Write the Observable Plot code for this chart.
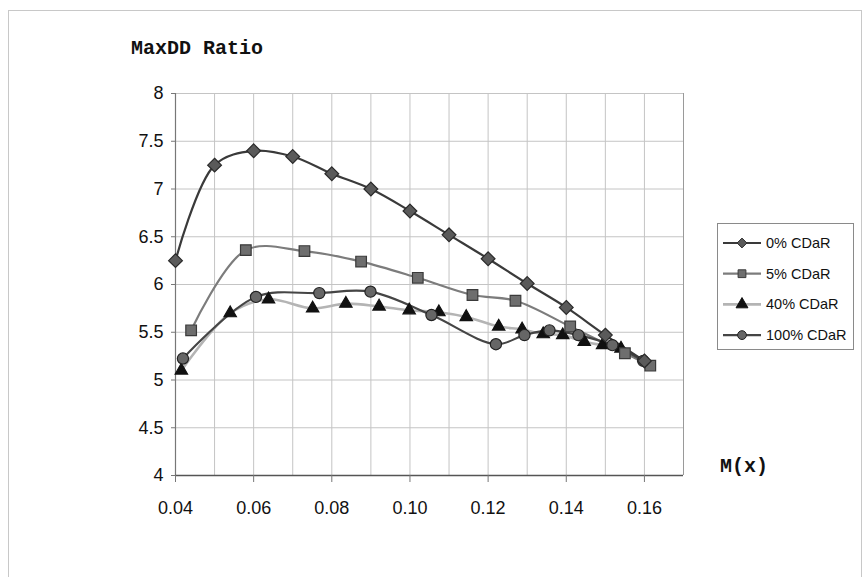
<!DOCTYPE html>
<html>
<head>
<meta charset="utf-8">
<script src="https://cdn.jsdelivr.net/npm/d3@7"></script>
<script src="https://cdn.jsdelivr.net/npm/@observablehq/plot@0.6"></script>
<style>
  html, body { margin: 0; padding: 0; background: #fff; }
  #wrap { position: relative; width: 867px; height: 577px; overflow: hidden; }
  #outer { position: absolute; left: 8px; top: 10px; width: 852px; height: 600px; border: 1.5px solid #c8c8c8; border-bottom: none; }
  #chart { position: absolute; left: 0; top: 0; }
  .lbl { position: absolute; font-family: "Liberation Mono", "DejaVu Sans Mono", monospace; font-weight: bold; font-size: 20px; color: #111; line-height: 20px; white-space: nowrap; }
  #legend { position: absolute; left: 717px; top: 223px; width: 135px; height: 125px; border: 1px solid #8a8a8a; background: #fff; }
</style>
</head>
<body>
<div id="wrap">
  <div id="outer"></div>
  <div id="chart"></div>
  <div class="lbl" style="left:131px; top:39px;">MaxDD Ratio</div>
  <div class="lbl" style="left:720px; top:457px;">M(x)</div>
  <div id="legend"></div>
</div>
<script>
// ---- data ----
const seriesNames = ["0% CDaR", "5% CDaR", "40% CDaR", "100% CDaR"];

const x0   = [0.040, 0.050, 0.060, 0.070, 0.080, 0.090, 0.100, 0.110, 0.120, 0.130, 0.140, 0.150, 0.160];
const y0   = [6.25,  7.25,  7.40,  7.34,  7.16,  7.00,  6.77,  6.52,  6.27,  6.01,  5.76,  5.47,  5.20];

const x5   = [0.044, 0.058, 0.073, 0.0875, 0.102, 0.116, 0.127, 0.141, 0.155, 0.1615];
const y5   = [5.52,  6.36,  6.35,  6.24,   6.07,  5.89,  5.83,  5.56,  5.28,  5.15];

const x40  = [0.0415, 0.054, 0.0638, 0.0751, 0.0836, 0.0921, 0.0998, 0.1074, 0.1144, 0.1227, 0.1287, 0.1341, 0.1391, 0.1446, 0.1493, 0.154];
const y40  = [5.10,   5.70,  5.845,  5.75,   5.80,   5.77,   5.73,   5.71,   5.66,   5.56,   5.53,   5.48,   5.47,   5.40,   5.365,  5.33];

const x100 = [0.0419, 0.0606, 0.0768, 0.0899, 0.1055, 0.122, 0.1293, 0.1357, 0.1431, 0.1518, 0.1597];
const y100 = [5.225,  5.87,   5.91,   5.925,  5.68,   5.375, 5.47,   5.52,   5.47,   5.365,  5.20];

const xTickLabels = [0.04, 0.06, 0.08, 0.10, 0.12, 0.14, 0.16];
const xGridLines  = [0.04, 0.05, 0.06, 0.07, 0.08, 0.09, 0.10, 0.11, 0.12, 0.13, 0.14, 0.15, 0.16, 0.17];
const yTickLabels = [4, 4.5, 5, 5.5, 6, 6.5, 7, 7.5, 8];

// ---- styles ----
const styles = {
  "0% CDaR":   {line: "#3a3a3a", width: 2.2, symbol: "diamond2", fill: "#5a5a5a", stroke: "#2a2a2a", r: 6.2},
  "5% CDaR":   {line: "#7c7c7c", width: 2.2, symbol: "square",   fill: "#6e6e6e", stroke: "#3a3a3a", r: 6.0},
  "40% CDaR":  {line: "#b4b4b4", width: 2.6, symbol: "triangle", fill: "#111111", stroke: "#111111", r: 4.6},
  "100% CDaR": {line: "#454545", width: 2.2, symbol: "circle",   fill: "#666666", stroke: "#222222", r: 5.6}
};

const build = (name, xs, ys) => xs.map((x, i) => ({series: name, x, y: ys[i]}));
const tables = {
  "0% CDaR": build("0% CDaR", x0, y0),
  "5% CDaR": build("5% CDaR", x5, y5),
  "40% CDaR": build("40% CDaR", x40, y40),
  "100% CDaR": build("100% CDaR", x100, y100)
};

const font = "Liberation Sans, Arial, sans-serif";
const marks = [
  Plot.gridX(xGridLines, {stroke: "#c4c4c4", strokeOpacity: 1, strokeWidth: 1}),
  Plot.gridY(yTickLabels, {stroke: "#c4c4c4", strokeOpacity: 1, strokeWidth: 1}),
  Plot.ruleX([0.17], {stroke: "#9a9a9a", strokeWidth: 1}),
  Plot.ruleX([0.04], {stroke: "#777", strokeWidth: 1.2}),
  Plot.ruleY([4], {stroke: "#555", strokeWidth: 1.4}),
  Plot.axisX(xTickLabels, {label: null, tickFormat: d3.format(".2f"), tickSize: 7, tickPadding: 19, fontSize: 18, stroke: "#777", fill: "#111", fontFamily: font}),
  Plot.axisY(yTickLabels, {label: null, tickFormat: d => String(d), tickSize: 4, tickPadding: 8, fontSize: 18, stroke: "#777", fill: "#111", fontFamily: font})
];

const order = ["40% CDaR", "5% CDaR", "100% CDaR", "0% CDaR"];
for (const name of order) {
  const s = styles[name];
  marks.push(Plot.line(tables[name], {x: "x", y: "y", stroke: s.line, strokeWidth: s.width, curve: "catmull-rom"}));
}
for (const name of order) {
  const s = styles[name];
  marks.push(Plot.dot(tables[name], {x: "x", y: "y", symbol: () => s.symbol, r: s.r, fill: s.fill, stroke: s.stroke, strokeWidth: 1.2}));
}

const chart = Plot.plot({
  width: 867,
  height: 577,
  marginLeft: 175,
  marginRight: 184,
  marginTop: 93,
  marginBottom: 102,
  style: {background: "transparent", fontFamily: font},
  x: {domain: [0.04, 0.17], label: null},
  y: {domain: [4, 8], label: null},
  symbol: {type: "identity"},
  marks
});
document.getElementById("chart").appendChild(chart);

// ---- legend ----
const ns = "http://www.w3.org/2000/svg";
const leg = document.createElementNS(ns, "svg");
leg.setAttribute("width", 135); leg.setAttribute("height", 125);
seriesNames.forEach((name, i) => {
  const s = styles[name];
  const cy = 19 + i * 30.7;
  const ln = document.createElementNS(ns, "line");
  ln.setAttribute("x1", 5); ln.setAttribute("x2", 43); ln.setAttribute("y1", cy); ln.setAttribute("y2", cy);
  ln.setAttribute("stroke", s.line); ln.setAttribute("stroke-width", s.width);
  leg.appendChild(ln);
  const sym = {diamond2: d3.symbolDiamond2, square: d3.symbolSquare, triangle: d3.symbolTriangle, circle: d3.symbolCircle}[s.symbol];
  const p = document.createElementNS(ns, "path");
  p.setAttribute("d", d3.symbol(sym, Math.PI * 4.4 * 4.4)());
  p.setAttribute("transform", `translate(24,${cy})`);
  p.setAttribute("fill", s.fill); p.setAttribute("stroke", s.stroke); p.setAttribute("stroke-width", 1);
  leg.appendChild(p);
  const t = document.createElementNS(ns, "text");
  t.setAttribute("x", 48); t.setAttribute("y", cy + 5);
  t.setAttribute("font-family", font);
  t.setAttribute("font-size", 14.5); t.setAttribute("fill", "#111");
  t.textContent = name;
  leg.appendChild(t);
});
document.getElementById("legend").appendChild(leg);
</script>
</body>
</html>
